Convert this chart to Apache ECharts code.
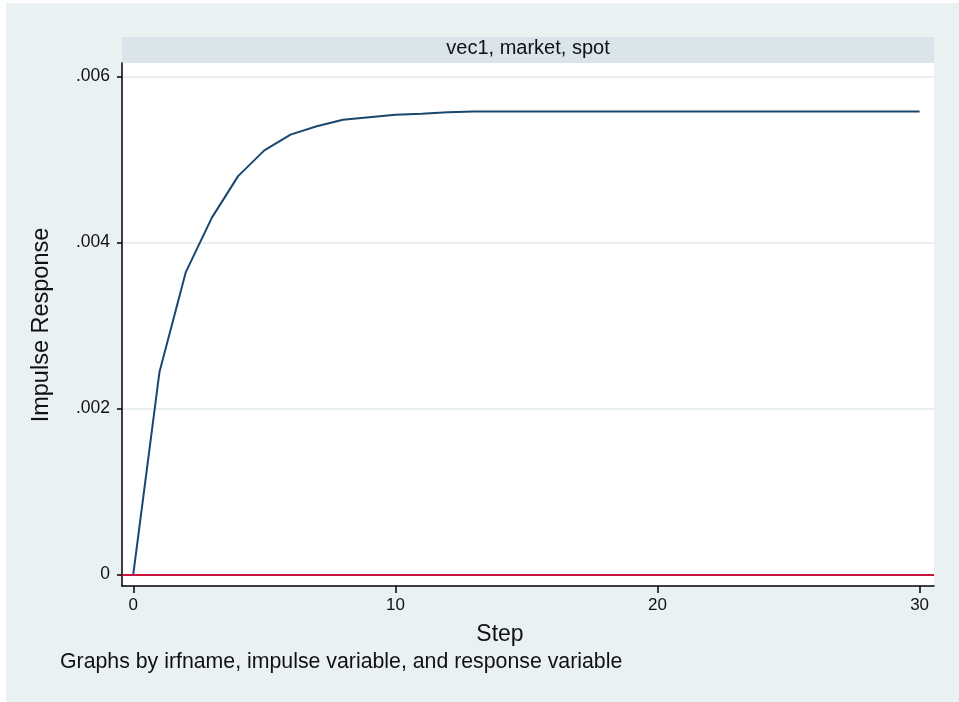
<!DOCTYPE html>
<html>
<head>
<meta charset="utf-8">
<script src="https://cdn.jsdelivr.net/npm/echarts@6/dist/echarts.min.js"></script>
<style>
html,body{margin:0;padding:0;background:#ffffff;}
#c{width:959px;height:702px;}
</style>
</head>
<body>
<div id="c"></div>
<script>
// Data
const steps = [0,1,2,3,4,5,6,7,8,9,10,11,12,13,14,15,16,17,18,19,20,21,22,23,24,25,26,27,28,29,30];
const irf = [0, 0.00244, 0.00364, 0.00430, 0.00480, 0.00511, 0.00530, 0.00540, 0.00548, 0.00551,
             0.00554, 0.00555, 0.00557, 0.00558, 0.00558, 0.00558, 0.00558, 0.00558, 0.00558, 0.00558,
             0.00558, 0.00558, 0.00558, 0.00558, 0.00558, 0.00558, 0.00558, 0.00558, 0.00558, 0.00558, 0.00558];
const yTicks = [0, 0.002, 0.004, 0.006];
const xTicks = [0, 10, 20, 30];
const panelTitle = 'vec1, market, spot';
const yTitle = 'Impulse Response';
const xTitle = 'Step';
const noteText = 'Graphs by irfname, impulse variable, and response variable';

const chart = echarts.init(document.getElementById('c'), null, {renderer: 'canvas'});
const font = 'Liberation Sans, Arial, sans-serif';
const fmtY = v => (v === 0 ? '0' : v.toFixed(3).replace(/^0/, ''));

const option = {
  backgroundColor: '#ffffff',
  animation: false,
  graphic: [
    {type: 'rect', z: -10, zlevel: 0, silent: true, shape: {x: 6, y: 3, width: 953, height: 699}, style: {fill: '#e9f1f3'}},
    {type: 'rect', z: -5, zlevel: 0, silent: true, shape: {x: 122, y: 37, width: 812, height: 26}, style: {fill: '#d9e5eb'}},
    {type: 'text', silent: true, x: 528, y: 48, style: {text: panelTitle, font: '20px ' + font, fill: '#111', textAlign: 'center', textVerticalAlign: 'middle'}},
    {type: 'text', silent: true, x: 42, y: 325, rotation: Math.PI / 2, style: {text: yTitle, font: '23.5px ' + font, fill: '#111', textAlign: 'center', textVerticalAlign: 'middle'}},
    {type: 'text', silent: true, x: 500, y: 635, style: {text: xTitle, font: '23px ' + font, fill: '#111', textAlign: 'center', textVerticalAlign: 'middle'}},
    {type: 'text', silent: true, x: 60, y: 662, style: {text: noteText, font: '21.3px ' + font, fill: '#111', textAlign: 'left', textVerticalAlign: 'middle'}}
  ],
  grid: {left: 122, right: 25, top: 63, bottom: 116, containLabel: false, show: true, backgroundColor: '#ffffff', borderWidth: 0},
  xAxis: {
    type: 'value',
    min: -0.43,
    max: 30.55,
    axisLine: {show: true, onZero: false, lineStyle: {color: '#000', width: 1.5}},
    axisTick: {show: true, length: 7, customValues: xTicks, lineStyle: {color: '#000', width: 1.5}},
    axisLabel: {customValues: xTicks, color: '#111', fontSize: 17, fontFamily: font, margin: 11, formatter: v => String(v)},
    splitLine: {show: false}
  },
  yAxis: {
    type: 'value',
    min: -0.000139,
    max: 0.006163,
    axisLine: {show: true, onZero: false, lineStyle: {color: '#000', width: 1.5}},
    axisTick: {show: true, length: 5, customValues: yTicks, lineStyle: {color: '#000', width: 1.5}},
    axisLabel: {customValues: yTicks, color: '#111', fontSize: 17.5, fontFamily: font, margin: 12, formatter: fmtY},
    splitLine: {show: true, customValues: yTicks, lineStyle: {color: '#e0ebef', width: 1.5}}
  },
  series: [
    {
      type: 'line',
      data: steps.map((s, i) => [s, irf[i]]),
      showSymbol: false,
      symbol: 'none',
      z: 3,
      lineStyle: {color: '#1a476f', width: 2},
      markLine: {
        silent: true, symbol: ['none', 'none'], animation: false,
        label: {show: false},
        lineStyle: {color: '#c8143c', width: 2, type: 'solid'},
        data: [{yAxis: 0}]
      }
    }
  ]
};
chart.setOption(option);
</script>
</body>
</html>
